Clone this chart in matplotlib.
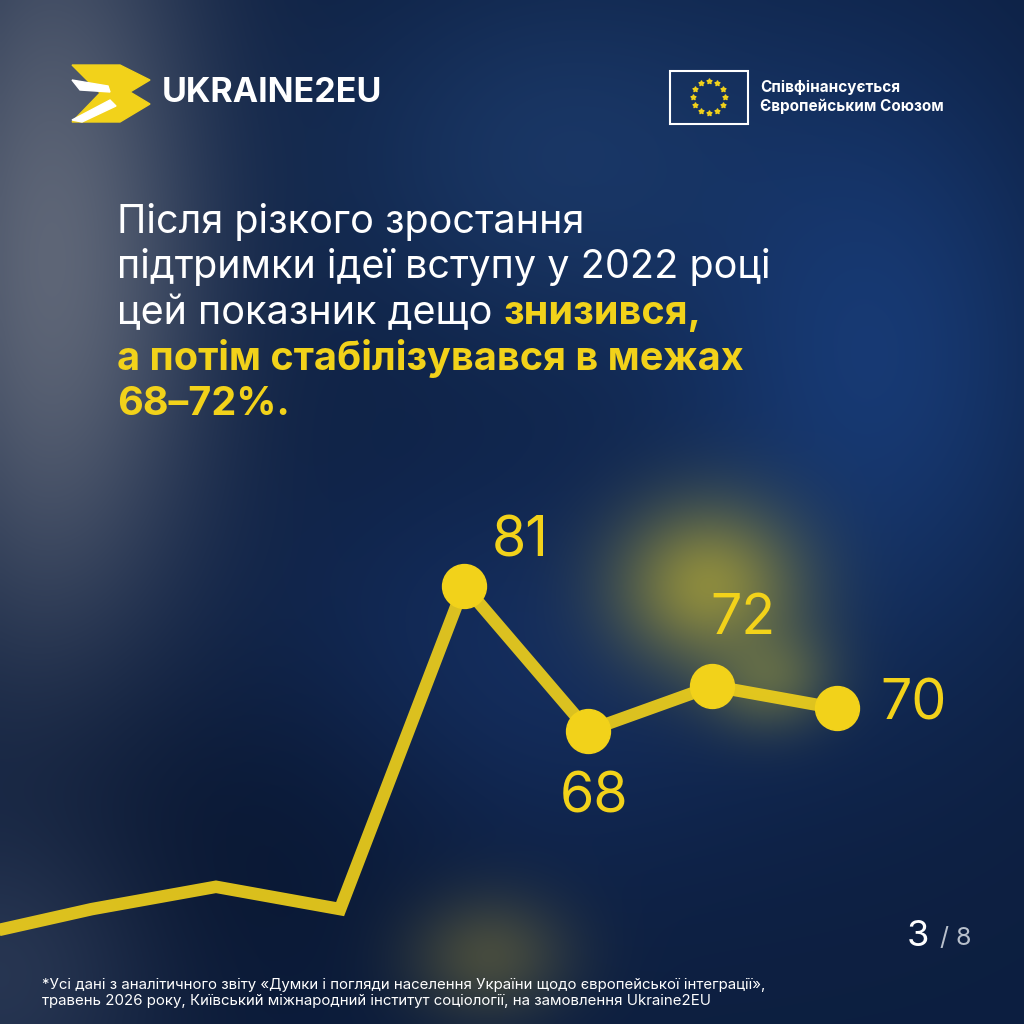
import numpy as np
import matplotlib
matplotlib.use("Agg")
import matplotlib.pyplot as plt
from matplotlib.patches import Polygon, Rectangle

# data
values = [49.5, 52, 54, 52, 81, 68, 72, 70]
labels = ["", "", "", "", "81", "68", "72", "70"]
marker_idx = [4, 5, 6, 7]
title_lines = [
    [("Після різкого зростання", "w", "normal")],
    [("підтримки ідеї вступу у 2022 році", "w", "normal")],
    [("цей показник дещо ", "w", "normal"), ("знизився,", "y", "bold")],
    [("а потім стабілізувався в межах", "y", "bold")],
    [("68–72%.", "y", "bold")],
]
footnote = ("*Усі дані з аналітичного звіту «Думки і погляди населення України щодо європейської інтеграції»,\n"
            "травень 2026 року, Київський міжнародний інститут соціології, на замовлення Ukraine2EU")

YEL = "#f2d21a"
plt.rcParams['font.family'] = ['Inter', 'DejaVu Sans']
fig = plt.figure(figsize=(10.24, 10.24), dpi=100)

# background
bg = fig.add_axes([0, 0, 1, 1]); bg.set_axis_off()
H = W = 256
yy, xx = np.mgrid[0:H, 0:W] / 256.0
img = np.zeros((H, W, 3))
img[:] = np.array([0.05, 0.12, 0.25])
def blob(cx, cy, sx, sy, col, a):
    g = np.exp(-(((xx - cx) / sx) ** 2 + ((yy - cy) / sy) ** 2))[..., None] * a
    return g * (np.array(col) - img)
img += blob(0.05, 0.25, 0.15, 0.4, [0.45, 0.47, 0.52], 0.8)
img += blob(0.55, 0.15, 0.25, 0.2, [0.12, 0.25, 0.45], 0.7)
img += blob(0.85, 0.35, 0.2, 0.3, [0.10, 0.25, 0.50], 0.8)
img += blob(0.50, 0.65, 0.25, 0.2, [0.10, 0.22, 0.45], 0.6)
img += blob(0.69, 0.57, 0.09, 0.08, [0.75, 0.70, 0.20], 0.7)
img += blob(0.75, 0.66, 0.06, 0.05, [0.60, 0.60, 0.25], 0.5)
img += blob(0.47, 0.93, 0.08, 0.06, [0.60, 0.55, 0.25], 0.5)
img += blob(0.2, 0.85, 0.25, 0.2, [0.03, 0.08, 0.18], 0.7)
img += blob(0.0, 0.95, 0.15, 0.15, [0.25, 0.3, 0.4], 0.5)
bg.imshow(np.clip(img, 0, 1), extent=[0, 1, 0, 1], aspect='auto', interpolation='bicubic')
bg.set_xlim(0, 1); bg.set_ylim(0, 1)

# chart
ax = fig.add_axes([0, 0, 1, 1]); ax.set_axis_off(); ax.patch.set_alpha(0)
x = np.arange(len(values))
ax.plot(x, values, color=YEL, lw=9, solid_joinstyle='miter', solid_capstyle='butt', alpha=0.9)
ax.scatter(x[marker_idx], [values[i] for i in marker_idx], s=1000, color=YEL, zorder=3)
ax.set_xlim(0.26, 8.51); ax.set_ylim(41.7, 133.5)
offs = {4: (0.45, 4.0), 5: (0.05, -6.0), 6: (0.25, 6.0), 7: (0.62, 0.3)}
for i, l in enumerate(labels):
    if l:
        dx, dy = offs[i]
        ax.text(x[i] + dx, values[i] + dy, l, color=YEL, fontsize=40, ha='center', va='center')

# title
fig.canvas.draw()
r = fig.canvas.get_renderer()
y0 = 1 - 233 / 1024
for k, line in enumerate(title_lines):
    xp = 117 / 1024
    yp = y0 - k * 45.5 / 1024
    for s, c, w in line:
        t = fig.text(xp, yp, s, color=("white" if c == "w" else YEL), fontsize=28.5, fontweight=w, va='baseline')
        bb = t.get_window_extent(r)
        xp += bb.width / 1024

# logo
lg = fig.add_axes([0, 0, 1, 1]); lg.set_axis_off(); lg.patch.set_alpha(0)
lg.set_xlim(0, 1024); lg.set_ylim(1024, 0)
lg.add_patch(Polygon([[72, 65], [120, 65], [150, 80], [130, 92], [150, 104], [120, 122], [72, 122], [100, 93]], color=YEL))
lg.add_patch(Polygon([[72, 80], [108, 86], [110, 92], [80, 90]], color="white"))
lg.add_patch(Polygon([[72, 120], [110, 100], [116, 106], [82, 122]], color="white"))
fig.text(162 / 1024, 1 - 93 / 1024, "UKRAINE2EU", color="white", fontsize=24.5, fontweight='bold', va='center')
lg.add_patch(Rectangle((670, 71), 78, 53, fill=False, ec="white", lw=1.5))
ang = np.linspace(0, 2 * np.pi, 13)[:-1]
lg.scatter(709 + 16 * np.cos(ang), 97 + 16 * np.sin(ang), marker=(5, 1, 0), s=14, color=YEL)
fig.text(760 / 1024, 1 - 97 / 1024, "Співфінансується\nЄвропейським Союзом", color="white",
         fontsize=11, fontweight='bold', va='center', linespacing=1.3)

# page
fig.text(907 / 1024, 1 - 937 / 1024, "3", color="white", fontsize=26, va='center')
fig.text(940 / 1024, 1 - 939 / 1024, "/ 8", color="#b8c0cc", fontsize=18, va='center')

fig.text(42 / 1024, 1 - 993 / 1024, footnote, color="white", fontsize=10.8, va='center', linespacing=1.25)

fig.savefig("out.png", dpi=100)
